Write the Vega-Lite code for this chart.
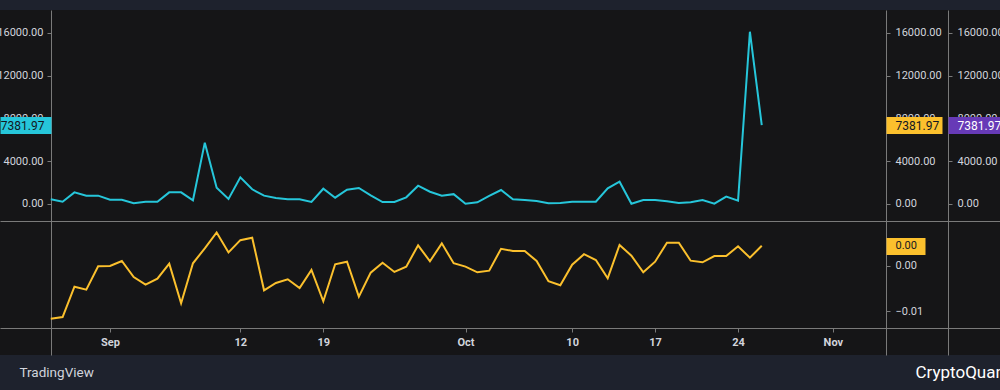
{
  "$schema": "https://vega.github.io/schema/vega-lite/v6.json",
  "width": 1000,
  "height": 345,
  "autosize": "none",
  "padding": {"top": 10, "bottom": 35, "left": 0, "right": 0},
  "background": "#1e222d",
  "data": {"values": [
    {"date": "2023-08-27", "flow": 440, "ratio": -0.01163},
    {"date": "2023-08-28", "flow": 215, "ratio": -0.01126},
    {"date": "2023-08-29", "flow": 1090, "ratio": -0.00457},
    {"date": "2023-08-30", "flow": 780, "ratio": -0.00523},
    {"date": "2023-08-31", "flow": 780, "ratio": -0.00007},
    {"date": "2023-09-01", "flow": 400, "ratio": 0.0},
    {"date": "2023-09-02", "flow": 400, "ratio": 0.0011},
    {"date": "2023-09-03", "flow": 65, "ratio": -0.00243},
    {"date": "2023-09-04", "flow": 215, "ratio": -0.00413},
    {"date": "2023-09-05", "flow": 215, "ratio": -0.0028},
    {"date": "2023-09-06", "flow": 1090, "ratio": 0.0005},
    {"date": "2023-09-07", "flow": 1090, "ratio": -0.00824},
    {"date": "2023-09-08", "flow": 345, "ratio": 0.0006},
    {"date": "2023-09-09", "flow": 5740, "ratio": 0.0039},
    {"date": "2023-09-10", "flow": 1525, "ratio": 0.0074},
    {"date": "2023-09-11", "flow": 470, "ratio": 0.003},
    {"date": "2023-09-12", "flow": 2495, "ratio": 0.0057},
    {"date": "2023-09-13", "flow": 1375, "ratio": 0.00625},
    {"date": "2023-09-14", "flow": 780, "ratio": -0.00537},
    {"date": "2023-09-15", "flow": 560, "ratio": -0.00375},
    {"date": "2023-09-16", "flow": 440, "ratio": -0.00294},
    {"date": "2023-09-17", "flow": 440, "ratio": -0.00486},
    {"date": "2023-09-18", "flow": 187, "ratio": -0.00088},
    {"date": "2023-09-19", "flow": 1430, "ratio": -0.00779},
    {"date": "2023-09-20", "flow": 590, "ratio": 0.00037},
    {"date": "2023-09-21", "flow": 1340, "ratio": 0.00095},
    {"date": "2023-09-22", "flow": 1500, "ratio": -0.00677},
    {"date": "2023-09-23", "flow": 810, "ratio": -0.00147},
    {"date": "2023-09-24", "flow": 187, "ratio": 0.00073},
    {"date": "2023-09-25", "flow": 187, "ratio": -0.00132},
    {"date": "2023-09-26", "flow": 625, "ratio": -0.00015},
    {"date": "2023-09-27", "flow": 1710, "ratio": 0.00457},
    {"date": "2023-09-28", "flow": 1150, "ratio": 0.00103},
    {"date": "2023-09-29", "flow": 780, "ratio": 0.005},
    {"date": "2023-09-30", "flow": 920, "ratio": 0.0006},
    {"date": "2023-10-01", "flow": 30, "ratio": -0.00015},
    {"date": "2023-10-02", "flow": 155, "ratio": -0.0014},
    {"date": "2023-10-03", "flow": 750, "ratio": -0.00103},
    {"date": "2023-10-04", "flow": 1310, "ratio": 0.0038},
    {"date": "2023-10-05", "flow": 440, "ratio": 0.0033},
    {"date": "2023-10-06", "flow": 375, "ratio": 0.0033},
    {"date": "2023-10-07", "flow": 280, "ratio": 0.0011},
    {"date": "2023-10-08", "flow": 65, "ratio": -0.00338},
    {"date": "2023-10-09", "flow": 95, "ratio": -0.00426},
    {"date": "2023-10-10", "flow": 215, "ratio": 0.00029},
    {"date": "2023-10-11", "flow": 215, "ratio": 0.0026},
    {"date": "2023-10-12", "flow": 215, "ratio": 0.00132},
    {"date": "2023-10-13", "flow": 1470, "ratio": -0.00272},
    {"date": "2023-10-14", "flow": 2090, "ratio": 0.00464},
    {"date": "2023-10-15", "flow": 30, "ratio": 0.00228},
    {"date": "2023-10-16", "flow": 375, "ratio": -0.0014},
    {"date": "2023-10-17", "flow": 375, "ratio": 0.00095},
    {"date": "2023-10-18", "flow": 250, "ratio": 0.00515},
    {"date": "2023-10-19", "flow": 95, "ratio": 0.00515},
    {"date": "2023-10-20", "flow": 155, "ratio": 0.00117},
    {"date": "2023-10-21", "flow": 375, "ratio": 0.00082},
    {"date": "2023-10-22", "flow": 30, "ratio": 0.0022},
    {"date": "2023-10-23", "flow": 685, "ratio": 0.0022},
    {"date": "2023-10-24", "flow": 310, "ratio": 0.00435},
    {"date": "2023-10-25", "flow": 16120, "ratio": 0.00183},
    {"date": "2023-10-26", "flow": 7381.97, "ratio": 0.00448}
  ]},
  "encoding": {
    "x": {
      "field": "date", "type": "temporal",
      "scale": {"type": "utc", "domain": [{"year": 2023, "month": 8, "date": 22, "hours": 17, "minutes": 13, "utc": true}, {"year": 2023, "month": 11, "date": 15, "hours": 2, "minutes": 31, "utc": true}]},
      "axis": {
        "orient": "bottom", "offset": -27, "grid": false,
        "values": [
          {"year": 2023, "month": 9, "date": 1, "utc": true},
          {"year": 2023, "month": 9, "date": 12, "utc": true},
          {"year": 2023, "month": 9, "date": 19, "utc": true},
          {"year": 2023, "month": 10, "date": 1, "utc": true},
          {"year": 2023, "month": 10, "date": 10, "utc": true},
          {"year": 2023, "month": 10, "date": 17, "utc": true},
          {"year": 2023, "month": 10, "date": 24, "utc": true},
          {"year": 2023, "month": 11, "date": 1, "utc": true}
        ],
        "labelExpr": "utcdate(datum.value) == 1 ? utcFormat(datum.value, '%b') : utcFormat(datum.value, '%-d')",
        "tickSize": 4, "labelPadding": 4, "labelFontWeight": "bold", "labelFontSize": 11, "labelFlush": false,
        "title": "CryptoQuant", "titleX": 915, "titleY": 44, "titleAlign": "left", "titleBaseline": "middle",
        "titleFontSize": 17, "titleColor": "#ffffff", "titleFontWeight": "normal", "titleFont": "Roboto"
      }
    }
  },
  "layer": [
    {
      "mark": {"type": "line", "color": "#26c6da", "strokeWidth": 2},
      "encoding": {"y": {"field": "flow", "type": "quantitative",
        "scale": {"domain": [-1591, 18152], "range": [211, 0], "nice": false, "zero": false},
        "axis": {"orient": "left", "offset": -51, "values": [0, 4000, 8000, 12000, 16000], "format": ".2f", "tickSize": 4, "labelPadding": 4, "title": null}}}
    },
    {
      "mark": {"type": "line", "opacity": 0},
      "encoding": {"y": {"field": "flow", "type": "quantitative",
        "scale": {"domain": [-1591, 18152], "range": [211, 0], "nice": false, "zero": false},
        "axis": {"orient": "right", "offset": -114, "values": [0, 4000, 8000, 12000, 16000], "format": ".2f", "tickSize": 4, "labelPadding": 5, "title": null}}}
    },
    {
      "mark": {"type": "line", "opacity": 0},
      "encoding": {"y": {"field": "flow", "type": "quantitative",
        "scale": {"domain": [-1591, 18152], "range": [211, 0], "nice": false, "zero": false},
        "axis": {"orient": "right", "offset": -52, "values": [0, 4000, 8000, 12000, 16000], "format": ".2f", "tickSize": 4, "labelPadding": 5, "title": null}}}
    },
    {
      "mark": {"type": "line", "opacity": 0},
      "encoding": {"y": {"field": "flow", "type": "quantitative",
        "scale": {"domain": [-1591, 18152], "range": [211, 0], "nice": false, "zero": false},
        "axis": {"orient": "left", "offset": -51, "values": [7381.97], "format": ".2f", "domain": false, "tickSize": 51, "tickWidth": 17, "tickColor": "#26c6da", "labelColor": "#131722", "labelFontSize": 12, "labelPadding": -44, "zindex": 1, "title": null}}}
    },
    {
      "mark": {"type": "line", "opacity": 0},
      "encoding": {"y": {"field": "flow", "type": "quantitative",
        "scale": {"domain": [-1591, 18152], "range": [211, 0], "nice": false, "zero": false},
        "axis": {"orient": "right", "offset": -114, "values": [7381.97], "format": ".2f", "domain": false, "tickSize": 56, "tickWidth": 17, "tickColor": "#fbc02d", "labelColor": "#131722", "labelFontSize": 12, "labelPadding": -47, "zindex": 1, "title": null}}}
    },
    {
      "mark": {"type": "line", "opacity": 0},
      "encoding": {"y": {"field": "flow", "type": "quantitative",
        "scale": {"domain": [-1591, 18152], "range": [211, 0], "nice": false, "zero": false},
        "axis": {"orient": "right", "offset": -52, "values": [7381.97], "format": ".2f", "domain": false, "tickSize": 52, "tickWidth": 17, "tickColor": "#673ab7", "labelColor": "#ffffff", "labelFontSize": 12, "labelPadding": -43, "zindex": 1, "title": null}}}
    },
    {
      "mark": {"type": "line", "color": "#fbc02d", "strokeWidth": 2},
      "encoding": {"y": {"field": "ratio", "type": "quantitative",
        "scale": {"domain": [-0.01965, 0.00993], "range": [345, 211], "nice": false, "zero": false},
        "axis": {"orient": "right", "offset": -114, "values": [0, -0.01], "format": ".2f", "tickSize": 4, "labelPadding": 5, "title": null}}}
    },
    {
      "mark": {"type": "line", "opacity": 0},
      "encoding": {"y": {"field": "ratio", "type": "quantitative",
        "scale": {"domain": [-0.01965, 0.00993], "range": [345, 211], "nice": false, "zero": false},
        "axis": {"orient": "left", "offset": -51, "values": [0.00993], "labels": false, "ticks": false, "grid": true, "gridColor": "#7a7a7a", "gridOpacity": 1,
          "title": "TradingView", "titleAngle": 0, "titleX": -32, "titleY": 362, "titleAlign": "left", "titleBaseline": "middle",
          "titleFontSize": 13.5, "titleColor": "#d1d4dc", "titleFontWeight": "normal", "titleFont": "Roboto"}}}
    },
    {
      "mark": {"type": "line", "opacity": 0},
      "encoding": {"y": {"field": "ratio", "type": "quantitative",
        "scale": {"domain": [-0.01965, 0.00993], "range": [345, 211], "nice": false, "zero": false},
        "axis": {"orient": "right", "offset": -52, "values": [0.00993], "labels": false, "ticks": false, "title": null}}}
    },
    {
      "mark": {"type": "line", "opacity": 0},
      "encoding": {"y": {"field": "ratio", "type": "quantitative",
        "scale": {"domain": [-0.01965, 0.00993], "range": [345, 211], "nice": false, "zero": false},
        "axis": {"orient": "right", "offset": -114, "values": [0.00448], "format": ".2f", "domain": false, "tickSize": 39, "tickWidth": 17, "tickColor": "#fbc02d", "labelColor": "#131722", "labelFontSize": 11, "labelPadding": -30, "zindex": 1, "title": null}}}
    }
  ],
  "resolve": {"scale": {"y": "independent"}},
  "config": {
    "view": {"fill": "#151517", "stroke": null},
    "axis": {"grid": false, "domainColor": "#7a7a7a", "tickColor": "#7a7a7a", "labelColor": "#d1d4dc", "labelFont": "Roboto", "labelFontSize": 11, "titleFont": "Roboto"}
  }
}
